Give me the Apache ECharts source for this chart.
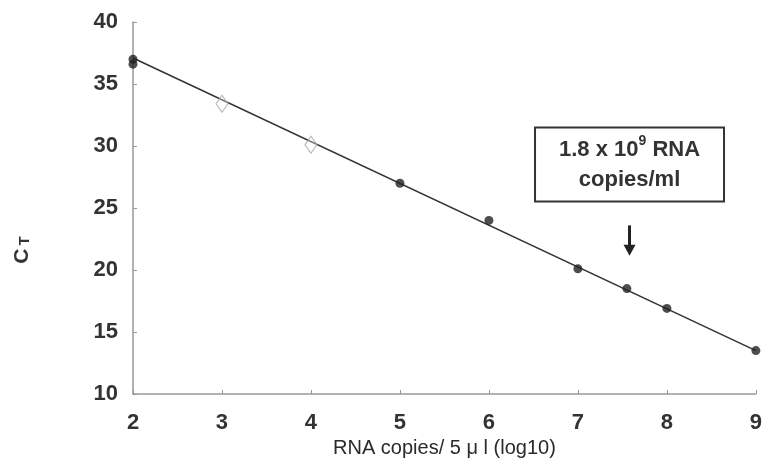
<!DOCTYPE html>
<html>
<head>
<meta charset="utf-8">
<script src="https://cdn.jsdelivr.net/npm/echarts@6/dist/echarts.min.js"></script>
<style>
  html, body { margin: 0; padding: 0; background: #fff; }
  #chart { width: 765px; height: 465px; }
</style>
</head>
<body>
<div id="chart"></div>
<script>
// standards, filled markers
const filledX = [2, 2, 5, 6, 7, 7.55, 8, 9];
const filledY = [37.0, 36.6, 27.0, 24.0, 20.1, 18.5, 16.9, 13.5];
// open diamond markers
const openX = [3, 4];
const openY = [33.4, 30.1];
// regression line end points
const fitX = [2, 9];
const fitY = [37.1, 13.5];
// annotation
const noteText = ['1.8 x 10{sup|9} RNA', 'copies/ml'];
const noteAt = [7.58, 28.5];
const arrowFrom = [7.58, 23.6];
const arrowTo = [7.58, 21.6];

const font = 'Liberation Sans, Arial, sans-serif';
const chart = echarts.init(document.getElementById('chart'));

const option = {
    animation: false,
    grid: { left: 133, right: 9, top: 22, bottom: 71 },
    graphic: [{
        type: 'text',
        x: 22, y: 250,
        rotation: Math.PI / 2,
        style: {
            text: '{c|C}{t|T}',
            align: 'center', verticalAlign: 'middle',
            rich: {
                c: { fontFamily: font, fontSize: 21, fontWeight: 'bold', fill: '#333' },
                t: { fontFamily: font, fontSize: 15, fontWeight: 'bold', fill: '#333', padding: [6, 0, 0, 3] }
            }
        }
    }],
    xAxis: {
        type: 'value', min: 2, max: 9, interval: 1,
        name: 'RNA copies/ 5 \u03bc l (log10)',
        nameLocation: 'middle', nameGap: 40,
        nameTextStyle: { fontFamily: font, fontSize: 20, color: '#2a2a2a' },
        axisLine: { lineStyle: { color: '#999', width: 1.5 } },
        axisTick: { inside: true, length: 4, lineStyle: { color: '#999' } },
        axisLabel: { fontFamily: font, fontSize: 22, fontWeight: 'bold', color: '#333', margin: 18 },
        splitLine: { show: false }
    },
    yAxis: {
        type: 'value', min: 10, max: 40, interval: 5,
        axisLine: { show: true, lineStyle: { color: '#999', width: 1.5 } },
        axisTick: { show: true, inside: true, length: 4, lineStyle: { color: '#999' } },
        axisLabel: { fontFamily: font, fontSize: 22, fontWeight: 'bold', color: '#333', margin: 15 },
        splitLine: { show: false }
    },
    series: [
        {
            type: 'line',
            data: fitX.map((x, i) => [x, fitY[i]]),
            symbol: 'none',
            lineStyle: { color: '#333', width: 1.5 },
            z: 1,
            markPoint: {
                symbol: 'rect', symbolSize: 1,
                itemStyle: { color: 'transparent' },
                data: [{
                    coord: noteAt,
                    label: {
                        show: true,
                        formatter: noteText.join('\n'),
                        fontFamily: font, fontSize: 22, fontWeight: 'bold', color: '#333',
                        lineHeight: 30, align: 'center', verticalAlign: 'middle',
                        borderColor: '#333', borderWidth: 2,
                        padding: [6, 14, 6, 14], width: 159,
                        backgroundColor: '#fff',
                        rich: {
                            sup: { fontFamily: font, fontSize: 14, fontWeight: 'bold', color: '#333', verticalAlign: 'top', lineHeight: 22 }
                        }
                    }
                }]
            },
            markLine: {
                silent: true,
                symbol: ['none', 'triangle'],
                symbolSize: [12, 11],
                lineStyle: { color: '#222', width: 3, type: 'solid' },
                label: { show: false },
                data: [[{ coord: arrowFrom }, { coord: arrowTo }]]
            }
        },
        {
            type: 'scatter',
            data: filledX.map((x, i) => [x, filledY[i]]),
            symbol: 'circle', symbolSize: 9,
            itemStyle: { color: '#222' },
            z: 3
        },
        {
            type: 'scatter',
            data: openX.map((x, i) => [x, openY[i]]),
            symbol: 'diamond', symbolSize: [12, 17],
            itemStyle: { color: 'rgba(255,255,255,0.4)', borderColor: '#aaa', borderWidth: 1.2 },
            z: 3
        }
    ]
};
chart.setOption(option);
window.addEventListener('resize', () => chart.resize());
</script>
</body>
</html>
